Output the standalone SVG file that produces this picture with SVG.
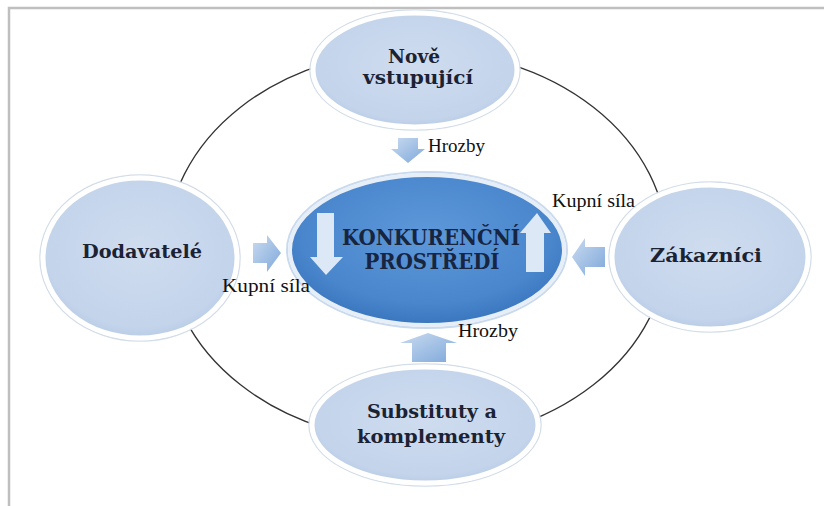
<svg xmlns="http://www.w3.org/2000/svg" width="824" height="506" viewBox="0 0 824 506">
<defs>
<radialGradient id="nodeFill" cx="50%" cy="45%" r="60%">
<stop offset="0" stop-color="#cfdcef"/>
<stop offset="0.8" stop-color="#c3d4eb"/>
<stop offset="1" stop-color="#b4c8e3"/>
</radialGradient>
<radialGradient id="centerFill" cx="50%" cy="40%" r="65%">
<stop offset="0" stop-color="#5d98da"/>
<stop offset="0.7" stop-color="#4a86cc"/>
<stop offset="1" stop-color="#3370b8"/>
</radialGradient>
<linearGradient id="arrowFill" x1="0" y1="0" x2="1" y2="1">
<stop offset="0" stop-color="#c9dbf0"/>
<stop offset="1" stop-color="#7fa8da"/>
</linearGradient>
<style>
.node{fill:url(#nodeFill);stroke:#ffffff;stroke-width:5}
.halo{fill:none;stroke:#d3dde9;stroke-width:1.5}
.lbl{font-family:"DejaVu Serif","Liberation Serif",serif;font-weight:bold;font-size:19px;fill:#1b2233;text-anchor:middle}
.ctr{font-size:22px;fill:#172540}
.small{font-family:"Liberation Serif","Times New Roman",serif;font-size:18px;fill:#111}
.arr{fill:url(#arrowFill)}
.warr{fill:#dde8f6}
</style>
</defs>
<rect x="0" y="0" width="824" height="506" fill="#ffffff"/>
<path d="M9 506 V8 H824" fill="none" stroke="#bfbfbf" stroke-width="2.5"/>
<g id="connectors">
<ellipse cx="417" cy="246" rx="250" ry="196" fill="none" stroke="#333" stroke-width="1.3"/>
<polygon class="arr" points="398,138 418,138 418,149 425,149 408,163 391,149 398,149"/>
<polygon class="arr" points="253,243 267,243 267,235 281,253 267,272 267,263 253,263"/>
<polygon class="arr" points="572,257 585,238 585,247 605,247 605,267 585,267 585,276"/>
<polygon class="arr" points="428,333 457,343 446,343 446,362 412,362 412,343 400,343"/>
</g>
<g id="node-top">
<ellipse class="halo" cx="415" cy="70" rx="105" ry="60"/>
<ellipse class="node" cx="415" cy="70" rx="102" ry="57"/>
<text class="lbl" x="414" y="63" font-size="17" textLength="52" lengthAdjust="spacingAndGlyphs">Nově</text>
<text class="lbl" x="418" y="84" font-size="17" textLength="110" lengthAdjust="spacingAndGlyphs">vstupující</text>
</g>
<g id="node-left">
<ellipse class="halo" cx="140" cy="258" rx="100" ry="83"/>
<ellipse class="node" cx="140" cy="258" rx="97" ry="80"/>
<text class="lbl" x="142" y="258" textLength="120" lengthAdjust="spacingAndGlyphs">Dodavatelé</text>
</g>
<g id="node-right">
<ellipse class="halo" cx="710" cy="257" rx="101" ry="75"/>
<ellipse class="node" cx="710" cy="257" rx="98" ry="72"/>
<text class="lbl" x="706" y="262" textLength="112" lengthAdjust="spacingAndGlyphs">Zákazníci</text>
</g>
<g id="node-bottom">
<ellipse class="halo" cx="425" cy="425" rx="116" ry="61"/>
<ellipse class="node" cx="425" cy="425" rx="113" ry="58"/>
<text class="lbl" x="432" y="418" textLength="130" lengthAdjust="spacingAndGlyphs">Substituty a</text>
<text class="lbl" x="431" y="443" textLength="148" lengthAdjust="spacingAndGlyphs">komplementy</text>
</g>
<g id="node-center">
<ellipse cx="427" cy="250" rx="140" ry="78" fill="none" stroke="#c9d9ee" stroke-width="2"/>
<ellipse cx="427" cy="250" rx="137" ry="75" fill="url(#centerFill)" stroke="#e6eef8" stroke-width="4"/>
<polygon class="warr" points="317,213 334,213 334,257 343,257 326,275 310,257 317,257"/>
<polygon class="warr" points="537,213 551,233 544,233 544,272 526,272 526,233 520,233"/>
<text class="lbl ctr" x="431" y="245" textLength="178" lengthAdjust="spacingAndGlyphs">KONKURENČNÍ</text>
<text class="lbl ctr" x="432" y="269" textLength="135" lengthAdjust="spacingAndGlyphs">PROSTŘEDÍ</text>
</g>
<g id="labels">
<text class="small" x="428" y="152" textLength="57" lengthAdjust="spacingAndGlyphs">Hrozby</text>
<text class="small" x="552" y="207" textLength="83" lengthAdjust="spacingAndGlyphs">Kupní síla</text>
<text class="small" x="222" y="292" textLength="88" lengthAdjust="spacingAndGlyphs">Kupní síla</text>
<text class="small" x="458" y="337" textLength="60" lengthAdjust="spacingAndGlyphs">Hrozby</text>
</g>
</svg>
